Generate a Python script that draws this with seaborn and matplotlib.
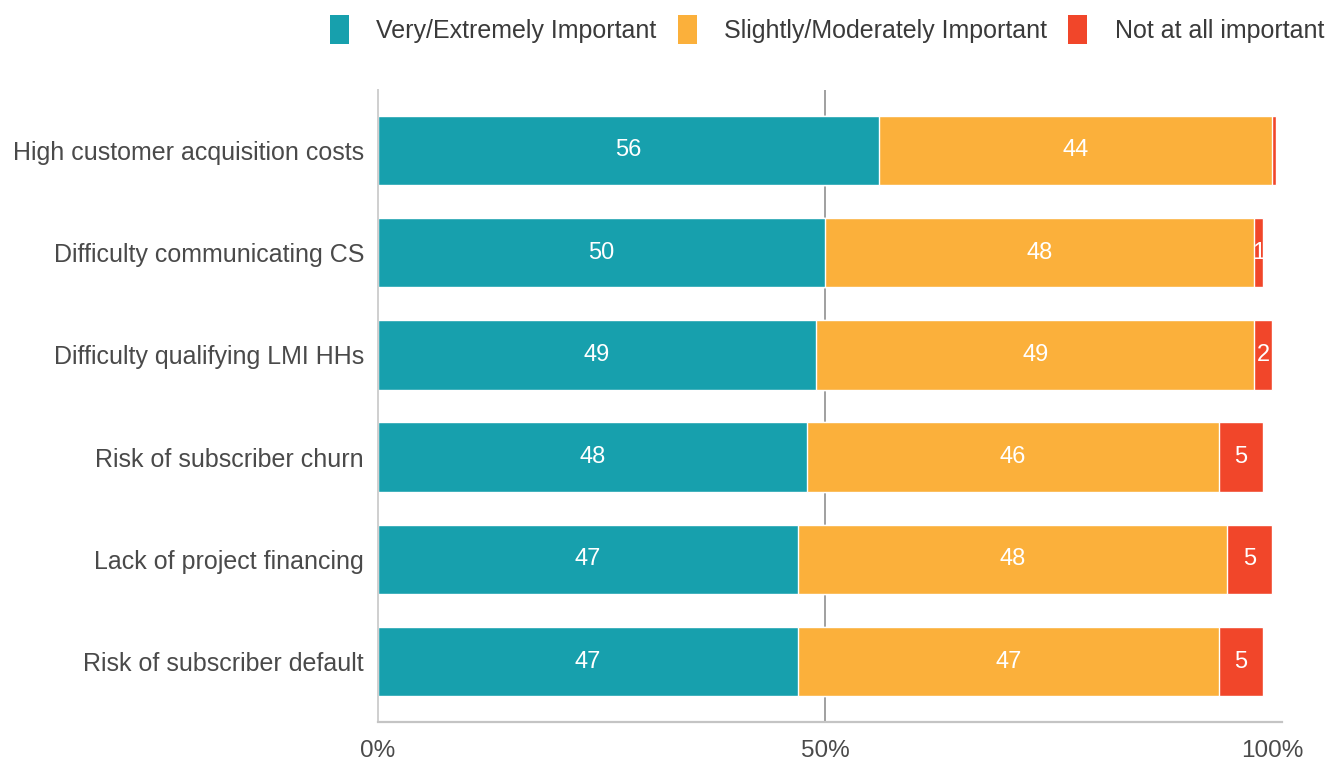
import numpy as np
import pandas as pd
import matplotlib
matplotlib.use("Agg")
import matplotlib.pyplot as plt
from matplotlib.patches import Patch
import seaborn as sns

# Survey results: share of respondents (%) rating each barrier
categories = [
    "High customer acquisition costs",
    "Difficulty communicating CS",
    "Difficulty qualifying LMI HHs",
    "Risk of subscriber churn",
    "Lack of project financing",
    "Risk of subscriber default",
]
very_important = [56, 50, 49, 48, 47, 47]
slightly_important = [44, 48, 49, 46, 48, 47]
not_important = [0.4, 1, 2, 5, 5, 5]

series_names = ["Very/Extremely Important", "Slightly/Moderately Important", "Not at all important"]
series_colors = ["#17a0ad", "#fbb03b", "#f1462a"]

sns.set_style("white")
plt.rcParams["font.family"] = ["Liberation Sans", "DejaVu Sans"]

df = pd.DataFrame({
    "category": categories,
    "very": very_important,
    "slightly": slightly_important,
    "not": not_important,
})
df["c1"] = df["very"]
df["c2"] = df["very"] + df["slightly"]
df["c3"] = df["c2"] + df["not"]

fig = plt.figure(figsize=(13.39, 7.62), dpi=100)
ax = fig.add_axes([378 / 1339, 40 / 762, 904 / 1339, 632 / 762])

# Stacked bars: draw cumulative totals back to front
for col, color in zip(["c3", "c2", "c1"], series_colors[::-1]):
    sns.barplot(data=df, y="category", x=col, color=color, orient="h",
                width=0.68, saturation=1, ax=ax, zorder=2)

# Segment value labels
for i, row in df.iterrows():
    segments = [(0, row["very"]), (row["c1"], row["slightly"]), (row["c2"], row["not"])]
    for start, val in segments:
        if val >= 1:
            ax.text(start + val / 2, i, f"{val:g}", ha="center", va="center",
                    color="white", fontsize=17, zorder=3)

ax.axvline(50, color="#a0a0a0", lw=1.4, zorder=1)

ax.set_xlim(0, 101.1)
ax.set_ylim(5.59, -0.59)
ax.set_xticks([0, 50, 100])
ax.set_xticklabels(["0%", "50%", "100%"])
ax.set_xlabel("")
ax.set_ylabel("")
ax.tick_params(axis="both", length=0, labelcolor="#4a4a4a")
ax.tick_params(axis="x", pad=13, labelsize=17.5)
ax.tick_params(axis="y", pad=10, labelsize=18)

for side in ["top", "right"]:
    ax.spines[side].set_visible(False)
ax.spines["left"].set_color("#cfcfcf")
ax.spines["bottom"].set_color("#c4c4c4")
ax.spines["left"].set_linewidth(1.4)
ax.spines["bottom"].set_linewidth(1.6)

handles = [Patch(facecolor=c, edgecolor="none") for c in series_colors]
fig.legend(handles, series_names, loc="upper right", bbox_to_anchor=(1.0, 1.0),
           ncol=3, frameon=False, fontsize=18, handlelength=0.75, handleheight=1.4,
           handletextpad=1.1, columnspacing=0.85, labelcolor="#3a3a3a",
           borderaxespad=0.2)

fig.savefig("out.png", dpi=100, facecolor="white")
